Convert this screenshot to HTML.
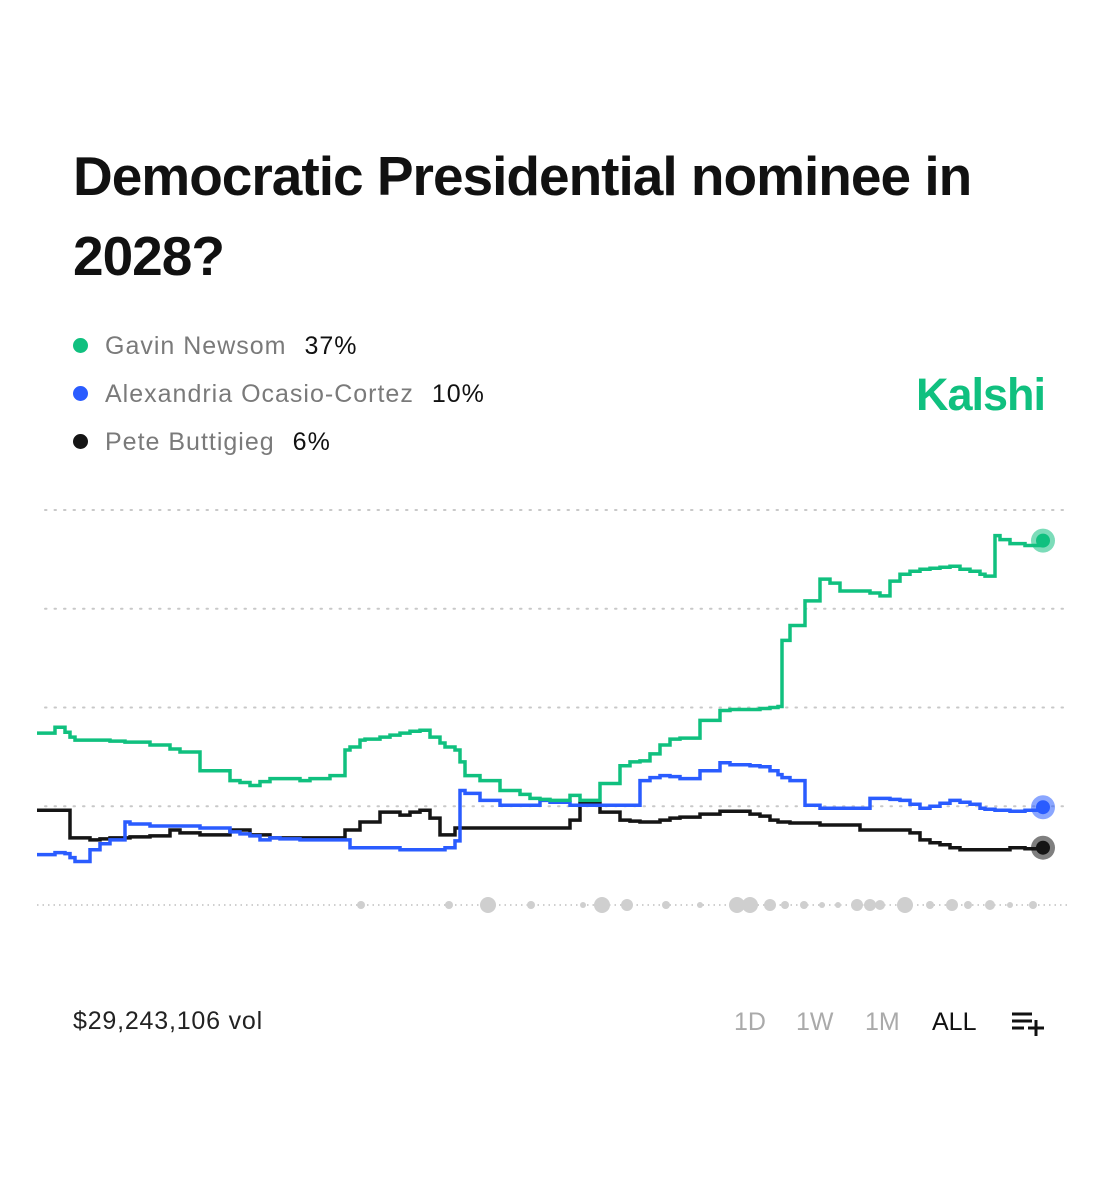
<!DOCTYPE html>
<html><head><meta charset="utf-8"><style>
body{margin:0;width:1107px;height:1200px;background:#fff;font-family:"Liberation Sans",sans-serif;position:relative;overflow:hidden}
.abs{position:absolute}
h1{position:absolute;left:73px;top:136px;margin:0;font-size:55px;line-height:80px;font-weight:bold;color:#111;letter-spacing:-1px;width:1000px}
.leg{position:absolute;left:73px;font-size:25px;color:#7a7a7a;height:30px;line-height:30px;letter-spacing:1px}
.leg .d{display:inline-block;width:15px;height:15px;border-radius:50%;margin-right:17px;vertical-align:middle;position:relative;top:-2px}
.leg b{color:#111;font-weight:normal;margin-left:18px}
.btn{position:absolute;top:1008px;font-size:25px;color:#aaa}
</style></head><body>
<h1>Democratic Presidential nominee in 2028?</h1>
<div class="leg" style="top:331px"><span class="d" style="background:#10c07f"></span>Gavin Newsom<b>37%</b></div>
<div class="leg" style="top:379px"><span class="d" style="background:#2a5cff"></span>Alexandria Ocasio-Cortez<b>10%</b></div>
<div class="leg" style="top:427px"><span class="d" style="background:#151515"></span>Pete Buttigieg<b>6%</b></div>
<div class="abs" style="left:916px;top:369px;font-size:45px;font-weight:bold;color:#10c07f;letter-spacing:-1px">Kalshi</div>
<svg class="abs" style="left:0;top:0" width="1107" height="1200" id="chart"></svg>
<div class="abs" style="left:73px;top:1007px;font-size:25px;color:#222;letter-spacing:0.8px">$29,243,106 vol</div>
<div class="btn" style="left:734px">1D</div>
<div class="btn" style="left:796px">1W</div>
<div class="btn" style="left:865px">1M</div>
<div class="btn" style="left:932px;color:#111">ALL</div>
<svg class="abs" style="left:1010px;top:1010px" width="36" height="28"><path d="M2 4H22M2 11H22M2 18H14M18 18H34M26 10V26" stroke="#111" stroke-width="3"/></svg>
<script>
const xs=[37,55,60,65,70,75,90,100,110,125,130,150,170,180,200,230,240,250,260,270,280,300,310,330,345,350,360,365,380,390,400,410,420,430,440,445,455,460,465,480,500,520,530,540,550,570,580,600,620,630,640,650,660,670,680,700,720,730,750,760,770,778,782,790,805,820,830,840,850,860,870,880,890,900,910,920,930,940,950,960,970,980,985,995,1000,1010,1025,1043];
const newsom=[17.4,18,18,17.5,17,16.7,16.7,16.7,16.6,16.5,16.5,16.2,15.8,15.5,13.6,12.6,12.4,12.1,12.5,12.8,12.8,12.6,12.8,13.1,15.7,16,16.7,16.8,17,17.2,17.4,17.6,17.7,17,16.4,16,15.7,14.5,13.1,12.6,11.6,11.2,10.8,10.7,10.6,11.1,10.6,12.3,14.1,14.5,14.6,15.3,16.2,16.8,16.9,18.7,19.7,19.8,19.8,19.9,20,20.1,26.8,28.3,30.8,33,32.6,31.8,31.8,31.8,31.6,31.3,32.8,33.5,33.8,34,34.1,34.2,34.3,34,33.8,33.5,33.3,37.4,37,36.6,36.4,36.9];
const aoc=[5.1,5.3,5.3,5.2,4.8,4.4,5.6,6.2,6.6,8.4,8.2,8,8,8,7.8,7.4,7.2,7,6.6,6.8,6.7,6.6,6.6,6.6,6.6,5.8,5.8,5.8,5.8,5.8,5.6,5.6,5.6,5.6,5.6,5.8,6.5,11.6,11.3,10.6,10.1,10.1,10.1,10.6,10.4,10.1,10.1,10.1,10.1,10.1,12.6,12.9,13.1,13,12.8,13.6,14.4,14.2,14.1,14,13.6,13.2,12.9,12.6,10.1,9.8,9.8,9.8,9.8,9.8,10.8,10.8,10.7,10.6,10.2,9.8,10,10.3,10.6,10.4,10.2,9.8,9.7,9.6,9.6,9.5,9.6,9.9];
const pete=[9.6,9.6,9.6,9.6,6.8,6.8,6.6,6.7,6.8,6.8,6.9,7,7.6,7.3,7.1,7.6,7.6,7.1,7.1,6.8,6.8,6.8,6.8,6.8,7.6,7.6,8.4,8.4,9.4,9.4,9.1,9.4,9.6,8.8,7.1,7.1,7.8,7.8,7.8,7.8,7.8,7.8,7.8,7.8,7.8,8.6,10.3,9.4,8.6,8.5,8.4,8.4,8.6,8.8,8.9,9.2,9.5,9.5,9.2,9,8.6,8.4,8.4,8.3,8.3,8.1,8.1,8.1,8.1,7.6,7.6,7.6,7.6,7.6,7.3,6.6,6.3,6.1,5.8,5.6,5.6,5.6,5.6,5.6,5.6,5.8,5.7,5.8];
const gridTicks=[10,20,30,40];
const volX=[361,449,488,531,583,602,627,666,700,737,750,770,785,804,822,838,857,870,880,905,930,952,968,990,1010,1033];
const volR=[4,4,8,4,3,8,6,4,3,8,8,6,4,4,3,3,6,6,5,8,4,6,4,5,3,4];
const NS="http://www.w3.org/2000/svg";
const svg=document.getElementById('chart');
const y=v=>905-v*9.875;
function mk(t,a){const e=document.createElementNS(NS,t);for(const k in a)e.setAttribute(k,a[k]);svg.appendChild(e);return e;}
gridTicks.forEach(t=>{const l=mk('line',{x1:45,x2:1070,y1:y(t),y2:y(t),stroke:'#c8c8c8','stroke-width':2,'stroke-dasharray':'1.5 8','stroke-linecap':'round'});

});
const base=mk('line',{x1:37,x2:1070,y1:905,y2:905,stroke:'#cfcfcf','stroke-width':2,'stroke-dasharray':'1.5 4'});


volX.forEach((vx,i)=>{const c=mk('circle',{cx:vx,cy:905,r:volR[i],fill:'#cfcfcf'});

});
function series(vals,col,name){let d='M'+xs[0]+' '+y(vals[0]);for(let i=1;i<vals.length;i++){d+=' H'+xs[i]+' V'+y(vals[i]);}
const p=mk('path',{d:d,fill:'none',stroke:col,'stroke-width':3.5});


const last=vals[vals.length-1],lx=xs[xs.length-1];
const h=mk('circle',{cx:lx,cy:y(last),r:12,fill:col,opacity:0.55});


const c=mk('circle',{cx:lx,cy:y(last),r:7,fill:col});

}
series(pete,'#151515','buttigieg');
series(aoc,'#2a5cff','aoc');
series(newsom,'#10c07f','newsom');
</script>
</body></html>
